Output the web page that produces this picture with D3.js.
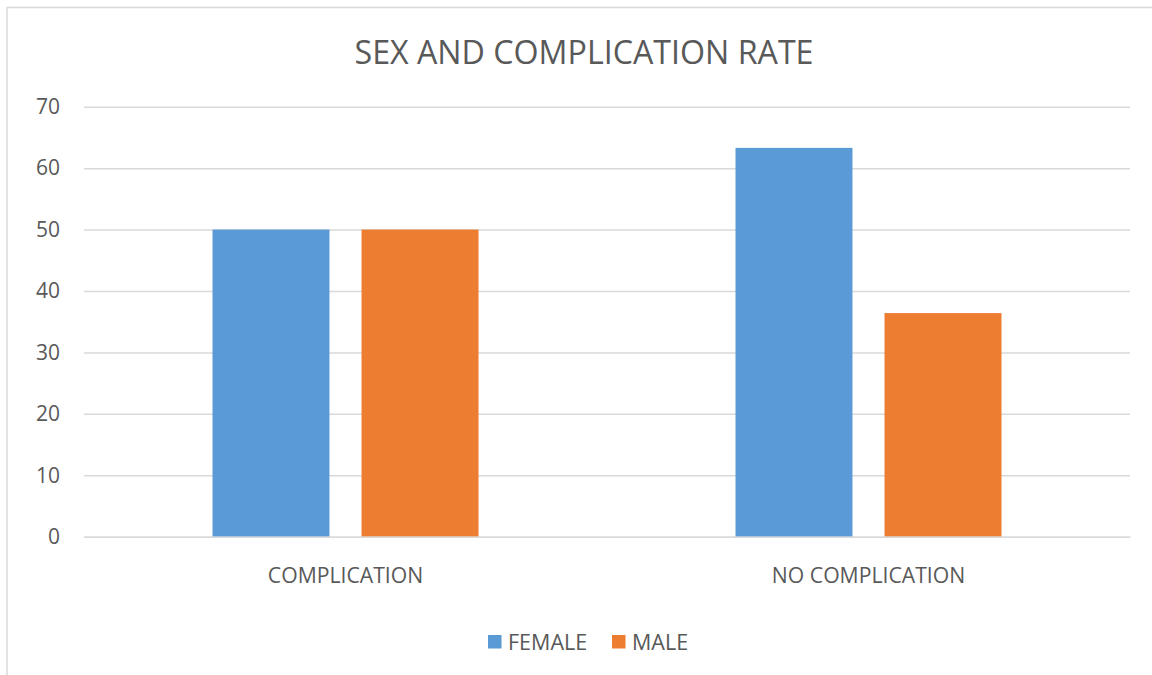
<!DOCTYPE html>
<html>
<head>
<meta charset="utf-8">
<script src="https://cdn.jsdelivr.net/npm/d3@7"></script>
<style>
  html, body { margin: 0; padding: 0; background: #fff; }
  svg { display: block; font-family: "Open Sans", sans-serif; }
</style>
</head>
<body>
<svg id="chart" width="1152" height="675"></svg>
<script>
/* ============================================================
   DATA
============================================================ */
const categories = ["COMPLICATION", "NO COMPLICATION"];
const series = ["FEMALE", "MALE"];
const femaleValues = [50, 63.3];
const maleValues = [50, 36.4];
const yTicks = [0, 10, 20, 30, 40, 50, 60, 70];

const colors = { FEMALE: "#5B9BD5", MALE: "#ED7D31" };
const textColor = "#595959";
const gridColor = "#d9d9d9";

/* ============================================================
   LAYOUT
============================================================ */
const svg = d3.select("#chart");
const plot = { left: 84, right: 1130, top: 106.7, bottom: 536.7 };

// chart frame (right/bottom edges fall outside the window)
svg.append("rect")
  .attr("x", 7).attr("y", 7.5)
  .attr("width", 1180).attr("height", 700)
  .attr("fill", "none")
  .attr("stroke", gridColor)
  .attr("stroke-width", 1.5);

const x0 = d3.scaleBand()
  .domain(categories)
  .range([plot.left, plot.right]);

const x1 = d3.scaleBand()
  .domain(series)
  .range([128.5, x0.bandwidth() - 128.5])
  .paddingInner(0.215);

const y = d3.scaleLinear()
  .domain([0, 70])
  .range([plot.bottom, plot.top]);

/* ============================================================
   GRID + Y AXIS
============================================================ */
const yAxis = svg.append("g")
  .attr("transform", `translate(${plot.left},0)`)
  .call(d3.axisLeft(y)
    .tickValues(yTicks)
    .tickSize(-(plot.right - plot.left))
    .tickPadding(24)
    .tickFormat(d3.format("d")));

yAxis.select(".domain").remove();
yAxis.selectAll(".tick line")
  .attr("stroke", gridColor)
  .attr("stroke-width", 1.5);
yAxis.selectAll(".tick text")
  .attr("fill", textColor)
  .attr("font-size", 21)
  .attr("font-family", "Open Sans, sans-serif");

/* ============================================================
   BARS
============================================================ */
const rows = categories.map((c, i) => ({
  category: c,
  values: [
    { key: "FEMALE", value: femaleValues[i] },
    { key: "MALE", value: maleValues[i] }
  ]
}));

svg.append("g")
  .selectAll("g")
  .data(rows)
  .join("g")
  .attr("transform", d => `translate(${x0(d.category)},0)`)
  .selectAll("rect")
  .data(d => d.values)
  .join("rect")
  .attr("x", d => x1(d.key))
  .attr("y", d => y(d.value))
  .attr("width", x1.bandwidth())
  .attr("height", d => y(0) - y(d.value))
  .attr("fill", d => colors[d.key]);

/* ============================================================
   X AXIS
============================================================ */
const xAxis = svg.append("g")
  .attr("transform", `translate(0,${plot.bottom})`)
  .call(d3.axisBottom(x0).tickSize(0).tickPadding(31));

xAxis.select(".domain")
  .attr("stroke", gridColor)
  .attr("stroke-width", 1.5);
xAxis.selectAll(".tick text")
  .attr("fill", textColor)
  .attr("font-size", 21.2)
  .attr("font-family", "Open Sans, sans-serif");

/* ============================================================
   TITLE + LEGEND
============================================================ */
svg.append("text")
  .attr("x", 584)
  .attr("y", 64)
  .attr("text-anchor", "middle")
  .attr("fill", textColor)
  .attr("font-size", 32.2)
  .text("SEX AND COMPLICATION RATE");

const legendX = [488, 612];
const legend = svg.append("g")
  .selectAll("g")
  .data(series)
  .join("g")
  .attr("transform", (d, i) => `translate(${legendX[i]},635)`);

legend.append("rect")
  .attr("width", 13.5)
  .attr("height", 13.5)
  .attr("fill", d => colors[d]);

legend.append("text")
  .attr("x", 20)
  .attr("y", 14.5)
  .attr("fill", textColor)
  .attr("font-size", 21.5)
  .text(d => d);
</script>
</body>
</html>
